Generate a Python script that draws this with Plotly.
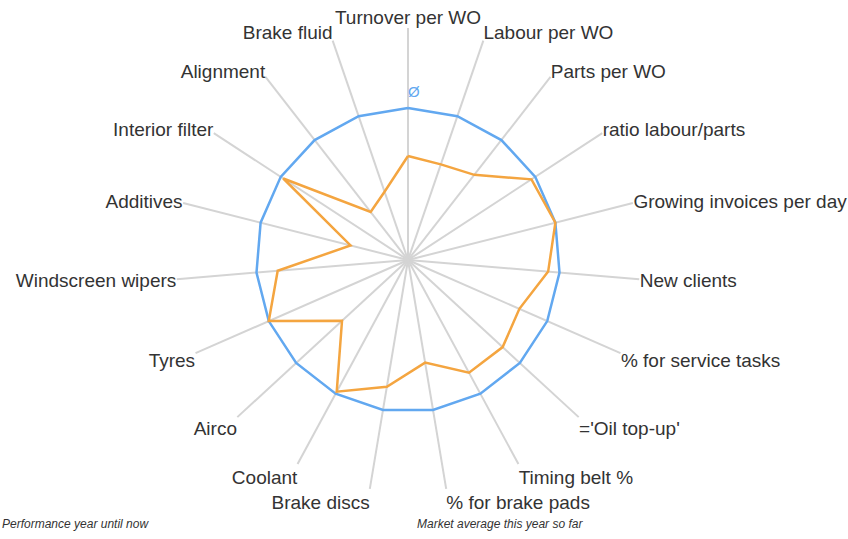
import plotly.graph_objects as go

categories = [
    "Turnover per WO", "Labour per WO", "Parts per WO", "ratio labour/parts",
    "Growing invoices per day", "New clients", "% for service tasks", "='Oil top-up'",
    "Timing belt %", "% for brake pads", "Brake discs", "Coolant", "Airco", "Tyres",
    "Windscreen wipers", "Additives", "Interior filter", "Alignment", "Brake fluid",
]
performance = [0.684, 0.665, 0.71, 0.97, 1.0, 0.925, 0.80, 0.846, 0.843, 0.684,
               0.845, 0.985, 0.59, 1.0, 0.86, 0.39, 0.98, 0.40, 0.475]
market_avg = [1.0] * len(categories)

series_names = ["Performance year until now", "Market average this year so far"]
avg_label = "Ø"

BLUE = "#62A8F0"
ORANGE = "#F4A540"

fig = go.Figure()
fig.add_trace(go.Scatterpolar(
    r=market_avg + market_avg[:1], theta=categories + categories[:1],
    mode="lines", line=dict(color=BLUE, width=2.5), name=series_names[1],
    showlegend=False, hoverinfo="skip"))
fig.add_trace(go.Scatterpolar(
    r=performance + performance[:1], theta=categories + categories[:1],
    mode="lines", line=dict(color=ORANGE, width=2.5), name=series_names[0],
    showlegend=False, hoverinfo="skip"))
fig.add_trace(go.Scatterpolar(
    r=[1.1], theta=[categories[0]], mode="text", text=[avg_label],
    textposition="middle right", textfont=dict(color=BLUE, size=15,
                                                 family="Liberation Sans, Arial"),
    showlegend=False, hoverinfo="skip"))

fig.update_layout(
    width=848, height=539,
    margin=dict(l=150, r=182, t=28, b=47),
    paper_bgcolor="white", plot_bgcolor="white",
    font=dict(family="Liberation Sans, Arial, sans-serif", color="#333333"),
    polar=dict(
        bgcolor="white",
        radialaxis=dict(visible=False, range=[0, 1.526], showgrid=False),
        angularaxis=dict(
            direction="clockwise", rotation=90, showline=False,
            showgrid=True, gridcolor="#D4D4D4", gridwidth=2,
            ticks="", tickfont=dict(size=19, color="#333333",
                                     family="Liberation Sans, Arial"),
        ),
    ),
    annotations=[
        dict(text="<i>" + series_names[0] + "</i>", xref="paper", yref="paper",
             x=-0.2907, y=-0.068, xanchor="left", yanchor="middle", showarrow=False,
             font=dict(size=12, color="#333333")),
        dict(text="<i>" + series_names[1] + "</i>", xref="paper", yref="paper",
             x=0.5136, y=-0.068, xanchor="left", yanchor="middle", showarrow=False,
             font=dict(size=12, color="#333333")),
    ],
)

fig.write_html("out.html", config={"displayModeBar": False})

with open("out.html", "r", encoding="utf-8") as f:
    html = f.read()
html = html.replace("<body>", '<body style="margin:0;padding:0;">', 1)
with open("out.html", "w", encoding="utf-8") as f:
    f.write(html)
